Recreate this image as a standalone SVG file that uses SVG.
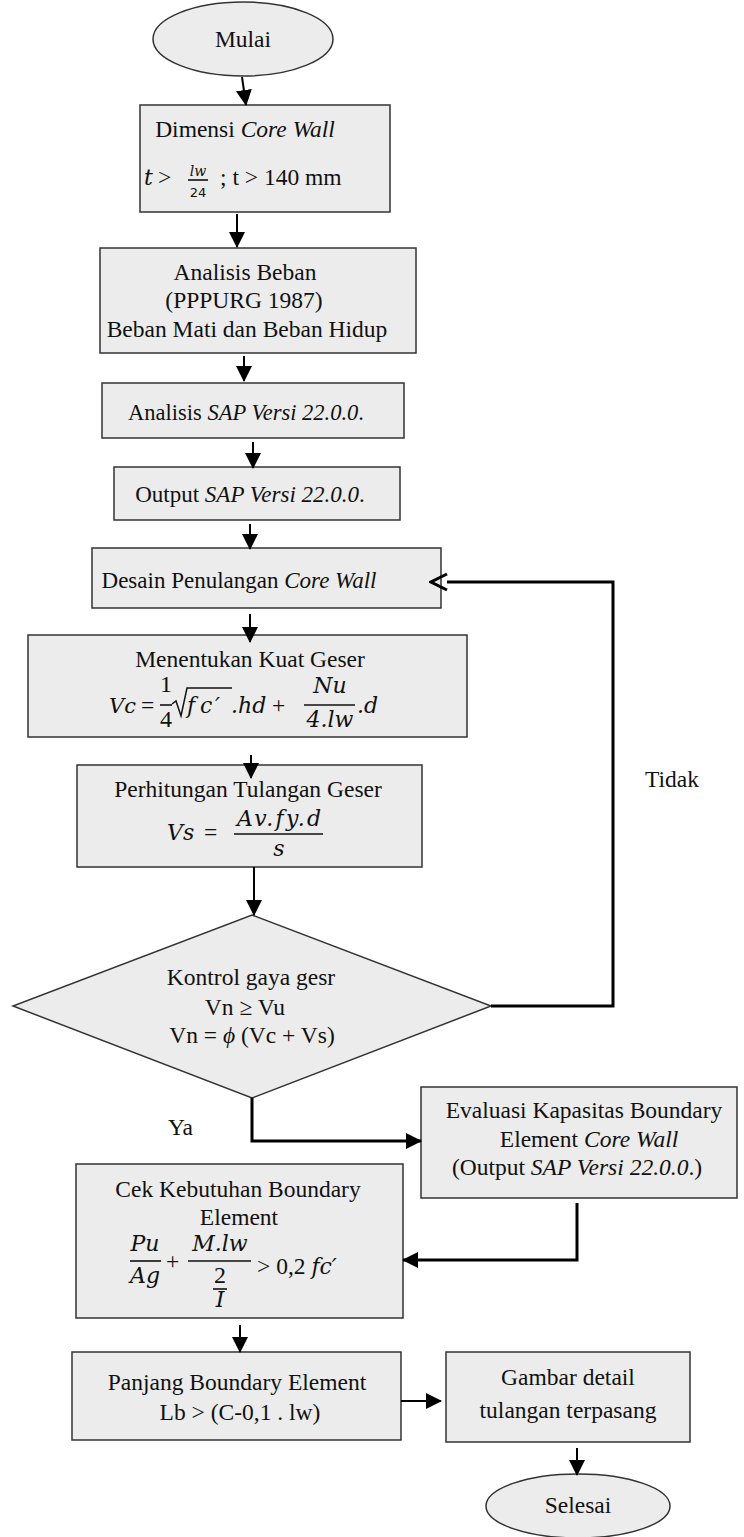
<svg xmlns="http://www.w3.org/2000/svg" width="744" height="1537" viewBox="0 0 744 1537">
<defs>
<style>
.box{fill:#ececec;stroke:#333;stroke-width:1.5}
.t{font-family:"Liberation Serif","Times New Roman",serif;font-size:23.5px;fill:#111;text-anchor:middle}
.s{font-family:"Liberation Serif","Times New Roman",serif;font-size:23.5px;fill:#111}
.m{font-family:"DejaVu Serif","Liberation Serif",serif;font-style:italic;font-size:22px;fill:#111}
.mc{font-family:"DejaVu Serif","Liberation Serif",serif;font-style:italic;font-size:22px;fill:#111;text-anchor:middle}
.d{font-family:"Liberation Serif","Times New Roman",serif;font-size:24px;fill:#111;text-anchor:middle}
.i{font-style:italic}
.c{fill:none;stroke:#000;stroke-width:2}
.ck{fill:none;stroke:#000;stroke-width:3}
.bar{stroke:#111;stroke-width:1.6}
</style>
<marker id="ah" markerUnits="userSpaceOnUse" markerWidth="16" markerHeight="16" viewBox="0 0 16 16" refX="15" refY="8" orient="auto">
<path d="M0,0 L16,8 L0,16 Z" fill="#000"/>
</marker>
<marker id="oa" markerUnits="userSpaceOnUse" markerWidth="20" markerHeight="20" viewBox="0 0 20 20" refX="2" refY="10" orient="auto">
<path d="M2,2 L18,10 L2,18" fill="none" stroke="#000" stroke-width="3"/>
</marker>
</defs>
<rect width="744" height="1537" fill="#fff"/>

<g id="mulai">
<ellipse cx="243" cy="39" rx="90" ry="37" class="box"/>
<text x="243" y="47" class="t">Mulai</text>
</g>

<g id="dimensi">
<rect x="140" y="105" width="250" height="107" class="box"/>
<text x="245" y="137" class="t">Dimensi <tspan class="i">Core Wall</tspan></text>
<text x="144" y="185" class="m">t</text>
<text x="158" y="185" class="s">&gt;</text>
<text x="198" y="176" class="mc" style="font-size:14px">lw</text>
<line x1="188" y1="180" x2="208" y2="180" class="bar"/>
<text x="198" y="197" style="font-family:'DejaVu Sans',sans-serif;font-size:13px;text-anchor:middle;fill:#111">24</text>
<text x="220" y="185" class="s">; t &gt; 140 mm</text>
</g>

<g id="analisis-beban">
<rect x="100" y="248" width="316" height="105" class="box"/>
<text x="245" y="280" class="t">Analisis Beban</text>
<text x="244" y="308" class="t">(PPPURG 1987)</text>
<text x="247" y="337" class="t">Beban Mati dan Beban Hidup</text>
</g>

<g id="analisis-sap">
<rect x="102" y="383" width="302" height="55" class="box"/>
<text x="246" y="420" class="t" style="font-size:22.5px">Analisis <tspan class="i">SAP Versi 22.0.0</tspan>.</text>
</g>

<g id="output-sap">
<rect x="114" y="467" width="286" height="53" class="box"/>
<text x="250" y="502" class="t" style="font-size:23px">Output <tspan class="i">SAP Versi 22.0.0</tspan>.</text>
</g>

<g id="desain">
<rect x="92" y="548" width="349" height="60" class="box"/>
<text x="239" y="588" class="t" style="font-size:23px">Desain Penulangan <tspan class="i">Core Wall</tspan></text>
</g>

<g id="menentukan">
<rect x="28" y="635" width="439" height="102" class="box"/>
<text x="250" y="667" class="t">Menentukan Kuat Geser</text>
<text x="109" y="713" class="m" style="font-size:21px">Vc</text>
<text x="141" y="713" class="s">=</text>
<text x="166" y="692" class="d">1</text>
<line x1="160" y1="705" x2="172" y2="705" class="bar"/>
<text x="166" y="727" class="d">4</text>
<path d="M172,704 L176,701 L181,716 L187,688 L232,688" fill="none" stroke="#111" stroke-width="1.5"/>
<text y="713" class="m"><tspan x="187">f</tspan><tspan x="200">c</tspan><tspan x="215">′</tspan></text>
<text x="231" y="713" class="m">.hd</text>
<text x="272" y="713" class="s">+</text>
<text x="330" y="693" class="mc">Nu</text>
<line x1="304" y1="705" x2="355" y2="705" class="bar"/>
<text x="330" y="727" class="mc">4.lw</text>
<text x="357" y="713" class="m">.d</text>
</g>

<g id="perhitungan">
<rect x="77" y="765" width="345" height="102" class="box"/>
<text x="248" y="797" class="t">Perhitungan Tulangan Geser</text>
<text x="167" y="840" class="m">Vs</text>
<text x="204" y="840" class="s">=</text>
<text x="279" y="826" class="mc" textLength="84" lengthAdjust="spacing">Av.fy.d</text>
<line x1="234" y1="834" x2="323" y2="834" class="bar"/>
<text x="279" y="856" class="mc">s</text>
</g>

<g id="kontrol">
<polygon points="252,915 491,1006 252,1098 13,1006" class="box"/>
<text x="251" y="985" class="t">Kontrol gaya gesr</text>
<text x="245" y="1015" class="t">Vn ≥ Vu</text>
<text x="252" y="1043" class="t">Vn = <tspan class="i">ϕ</tspan> (Vc + Vs)</text>
</g>

<g id="evaluasi">
<rect x="421" y="1087" width="316" height="111" class="box"/>
<text x="584" y="1118" class="t">Evaluasi Kapasitas Boundary</text>
<text x="589" y="1147" class="t">Element <tspan class="i">Core Wall</tspan></text>
<text x="577" y="1175" class="t">(Output <tspan class="i">SAP Versi 22.0.0</tspan>.)</text>
</g>

<g id="cek">
<rect x="76" y="1164" width="327" height="154" class="box"/>
<text x="238" y="1197" class="t">Cek Kebutuhan Boundary</text>
<text x="239" y="1225" class="t">Element</text>
<text x="145" y="1251" class="mc">Pu</text>
<line x1="130" y1="1261" x2="161" y2="1261" class="bar"/>
<text x="145" y="1283" class="mc">Ag</text>
<text x="166" y="1269" class="s">+</text>
<text x="220" y="1251" class="mc">M.lw</text>
<line x1="188" y1="1261" x2="251" y2="1261" class="bar"/>
<text x="220" y="1283" class="d">2</text>
<line x1="213" y1="1289" x2="227" y2="1289" class="bar"/>
<text x="220" y="1307" class="mc">I</text>
<text x="257" y="1274" class="s">&gt; 0,2 <tspan style="font-family:'DejaVu Serif',serif;font-size:22px" class="i">fc′</tspan></text>
</g>

<g id="panjang">
<rect x="72" y="1352" width="329" height="88" class="box"/>
<text x="237" y="1390" class="t">Panjang Boundary Element</text>
<text x="240" y="1420" class="t">Lb &gt; (C-0,1 . lw)</text>
</g>

<g id="gambar">
<rect x="446" y="1352" width="244" height="90" class="box"/>
<text x="568" y="1385" class="t">Gambar detail</text>
<text x="568" y="1418" class="t">tulangan terpasang</text>
</g>

<g id="selesai">
<ellipse cx="578" cy="1506" rx="92" ry="32" class="box"/>
<text x="578" y="1513" class="t">Selesai</text>
</g>

<g id="labels">
<text x="645" y="787" class="s">Tidak</text>
<text x="168" y="1135" class="s">Ya</text>
</g>

<g id="connectors">
<line x1="242" y1="77" x2="246" y2="105" class="c" marker-end="url(#ah)"/>
<line x1="237" y1="214" x2="237" y2="247" class="c" marker-end="url(#ah)"/>
<line x1="244" y1="356" x2="244" y2="381" class="c" marker-end="url(#ah)"/>
<line x1="253" y1="442" x2="253" y2="468" class="c" marker-end="url(#ah)"/>
<line x1="250" y1="524" x2="250" y2="549" class="c" marker-end="url(#ah)"/>
<line x1="250" y1="614" x2="250" y2="642" class="c" marker-end="url(#ah)"/>
<line x1="251" y1="755" x2="251" y2="778" class="c" marker-end="url(#ah)"/>
<line x1="254" y1="867" x2="254" y2="915" class="c" marker-end="url(#ah)"/>
<polyline points="491,1006 613,1006 613,582 447,582" class="ck" marker-end="url(#oa)"/>
<polyline points="252,1098 252,1141 421,1141" class="ck" marker-end="url(#ah)"/>
<polyline points="577,1203 577,1260 403,1260" class="ck" marker-end="url(#ah)"/>
<line x1="240" y1="1325" x2="240" y2="1352" class="c" marker-end="url(#ah)"/>
<line x1="401" y1="1401" x2="441" y2="1401" class="c" marker-end="url(#ah)"/>
<line x1="577" y1="1448" x2="577" y2="1475" class="c" marker-end="url(#ah)"/>
</g>
</svg>
